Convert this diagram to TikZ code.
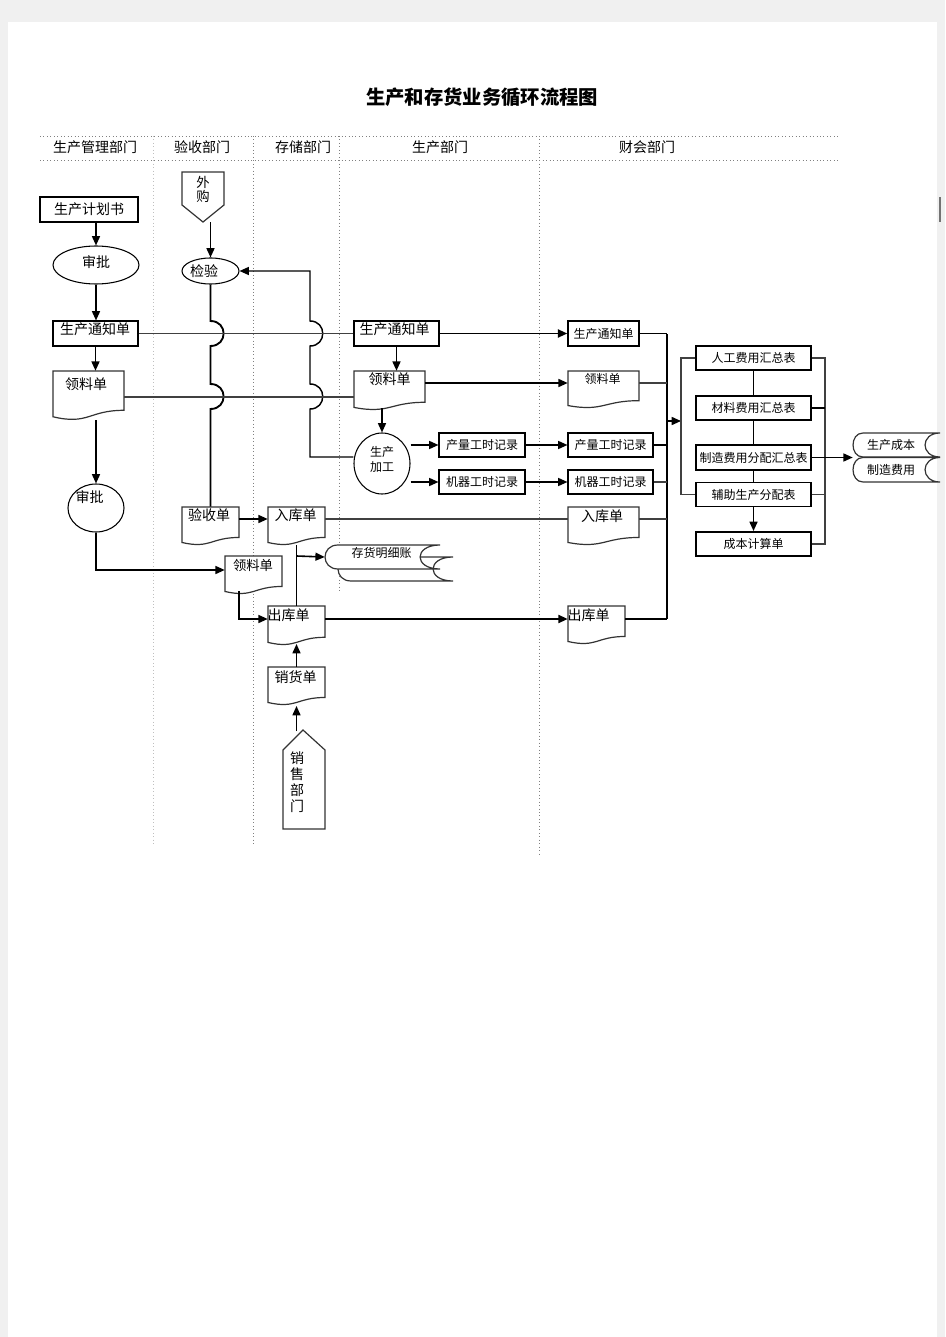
\documentclass[tikz,border=0pt]{standalone}
\usepackage{fontspec}
\setmainfont{Noto Sans CJK SC}
\usetikzlibrary{arrows.meta,shapes.geometric,calc}
\newcommand\myfs[1]{\fontsize{#1}{#1}\selectfont}
% document shape: name, x0, ytop, x1, H
\newcommand\docsh[5]{%
  \pgfmathsetmacro\dxm{(#2+#4)/2}%
  \pgfmathsetmacro\dyr{#3+0.802*#5}%
  \pgfmathsetmacro\dyl{#3+0.934*#5}%
  \pgfmathsetmacro\dyc{#3+1.107*#5}%
  \draw[docline] (#2,#3) -- (#4,#3) -- (#4,\dyr) .. controls (\dxm,\dyr) and (\dxm,\dyc) .. (#2,\dyl) -- cycle;
  \node[inner sep=0pt, bx={#4-#2}{#5}] (#1) at (\dxm,#3+#5/2) {};
}
% stored data shape: x0, ytop, x1, ybottom, left radius, right depth
\newcommand\storedsh[6]{%
  \draw[docline] (#1+#5,#2) -- (#3,#2) .. controls (#3-1.33*#6,#2) and (#3-1.33*#6,#4) .. (#3,#4) -- (#1+#5,#4) .. controls (#1-0.33*#5,#4) and (#1-0.33*#5,#2) .. (#1+#5,#2) -- cycle;
}
\begin{document}
\begin{tikzpicture}[x=0.75pt,y=-0.75pt,
  bx/.style 2 args={minimum width=(#1)*0.75pt, minimum height=(#2)*0.75pt},
  box/.style={draw, line width=0.8pt, inner sep=0pt, fill=white, font=\myfs{9}},
  thk/.style={line width=1.5pt},
  docline/.style={draw=black!80, line width=0.9pt, fill=white},
  ln/.style={line width=0.8pt, draw=black!75},
  lnb/.style={line width=1.4pt},
  arr/.style={-{Triangle[length=7pt,width=6pt]}, line width=1.2pt},
  txt/.style={inner sep=0pt, font=\myfs{10.5}},
  stxt/.style={inner sep=0pt, font=\myfs{9}},
  hdr/.style={draw=black!50, line width=0.6pt, dotted},
]
\useasboundingbox (0,0) rectangle (945,1337);
\fill[black!6] (0,0) rectangle (945,1337);
\fill[white] (8,22) rectangle (937,1337);
\fill[black!55] (939,197) rectangle (941,222);

% title
\node[inner sep=0pt, font=\myfs{14.5}\bfseries] (title) at (482,97) {生产和存货业务循环流程图};

% swimlane header
\draw[hdr] (40,136) -- (838,136);
\draw[hdr] (40,160) -- (838,160);
\draw[hdr, draw=black!25] (153,136) -- (153,845);
\draw[hdr] (253,136) -- (253,845);
\draw[hdr] (339,136) -- (339,593);
\draw[hdr] (539,136) -- (539,855);
\node[txt] (h1) at (95,147) {生产管理部门};
\node[txt] (h2) at (202,147) {验收部门};
\node[txt] (h3) at (303,147) {存储部门};
\node[txt] (h4) at (440,147) {生产部门};
\node[txt] (h5) at (647,147) {财会部门};

% ---------- production management ----------
\node[box, bx={98}{25}, font=\myfs{10.5}] (plan) at (89,209.5) {生产计划书};
\node[box, ellipse, bx={86}{38}] (appr1) at (96,265) {};
\node[txt] (appr1-t) at (96,262) {审批};
\node[box, bx={85}{25}] (noticeL) at (95.5,333.5) {};
\node[txt] (noticeL-t) at (95,329) {生产通知单};
\docsh{pickL}{53}{371}{124}{49}
\node[txt] (pickL-t) at (86,384) {领料单};
\node[box, ellipse, bx={56}{48}] (appr2) at (96,508) {};
\node[txt] (appr2-t) at (89.5,497) {审批};

% ---------- receiving ----------
\node[inner sep=0pt, bx={42}{50}] (buy) at (203,197) {};
\draw[docline] (182,172) -- (224,172) -- (224,205) -- (203,222) -- (182,205) -- cycle;
\node[inner sep=0pt, font=\fontsize{10}{10.5}\selectfont, align=center] (buy-t) at (203,189) {外\\购};
\node[box, ellipse, bx={57}{26}] (check) at (210.5,271) {};
\node[txt] (check-t) at (204,271) {检验};
\docsh{recv}{182}{507}{239}{38}
\node[txt] (recv-t) at (209,515) {验收单};

% ---------- storage ----------
\docsh{inS}{268}{507}{325}{38}
\node[txt] (inS-t) at (295.5,515) {入库单};
\storedsh{338}{557}{453}{581}{13}{20}
\storedsh{325}{545}{440}{569}{13}{20}
\node[inner sep=0pt, bx={115}{24}] (stock) at (382.5,557) {};
\node[stxt] (stock-t) at (381.5,553) {存货明细账};
\docsh{pickM}{225}{556}{282}{38}
\node[txt, font=\myfs{10}] (pickM-t) at (253,565) {领料单};
\docsh{outS}{268}{606}{325}{39}
\node[txt] (outS-t) at (288.5,615) {出库单};
\docsh{salesd}{268}{667}{325}{38}
\node[txt] (salesd-t) at (295.5,677) {销货单};
\node[inner sep=0pt, bx={42}{99}] (salesdep) at (304,779.5) {};
\draw[docline] (283,750) -- (303,730) -- (325,750) -- (325,829) -- (283,829) -- cycle;
\node[inner sep=0pt, font=\fontsize{10.5}{12}\selectfont, align=center] (salesdep-t) at (297,782) {销\\售\\部\\门};

% ---------- production ----------
\node[box, thk, bx={85}{25}] (noticeP) at (396.5,333.5) {};
\node[txt] (noticeP-t) at (394.5,329) {生产通知单};
\docsh{pickP}{354}{371}{425}{39}
\node[txt] (pickP-t) at (389.5,379) {领料单};
\node[box, ellipse, bx={56}{61}] (proc) at (382,463.5) {};
\node[inner sep=0pt, font=\fontsize{9}{11.25}\selectfont, align=center] (proc-t) at (382,459.5) {生产\\加工};
\node[box, bx={86}{24}] (prodRec) at (482,445) {产量工时记录};
\node[box, bx={86}{24}] (machRec) at (482,482) {机器工时记录};

% ---------- finance ----------
\node[box, line width=1.1pt, bx={71}{25}] (noticeF) at (603.5,333.5) {生产通知单};
\docsh{pickF}{568}{371}{639}{37}
\node[stxt] (pickF-t) at (602.5,379) {领料单};
\node[box, bx={85}{24}] (prodF) at (610.5,445) {产量工时记录};
\node[box, bx={85}{24}] (machF) at (610.5,482) {机器工时记录};
\docsh{inF}{568}{507}{639}{38}
\node[txt] (inF-t) at (602,516) {入库单};
\docsh{outF}{568}{606}{625}{38}
\node[txt] (outF-t) at (588.5,615) {出库单};

\node[box, bx={115}{24}] (labor) at (753.5,358) {人工费用汇总表};
\node[box, bx={115}{24}] (mat) at (753.5,408) {材料费用汇总表};
\node[box, thk, bx={115}{25}] (mfg) at (753.5,457.5) {制造费用分配汇总表};
\node[box, bx={115}{24}] (aux) at (753.5,494.5) {辅助生产分配表};
\node[box, thk, bx={115}{24}] (cost) at (753.5,544) {成本计算单};

\storedsh{853}{433}{940}{457}{10}{15}
\storedsh{853}{457.5}{940}{482}{10}{15}
\node[inner sep=0pt, bx={87}{49}] (pcost) at (896.5,457.5) {};
\node[stxt] (pcost-t1) at (891,445) {生产成本};
\node[stxt] (pcost-t2) at (891,470) {制造费用};

% ---------- connectors ----------
\draw[arr] (appr1.north |- plan.south) -- (appr1.north);
\draw[arr] (appr1.south) -- (appr1.south |- noticeL.north);
\draw[arr] (noticeL.south) -- (noticeL.south |- pickL.north);
\draw[arr] (appr2.north |- pickL.south) -- (appr2.north);
\draw[arr] (appr2.south) |- (pickM.west |- 0,570);

\draw[arr] (check.north |- buy.south) -- (check.north);
\draw[lnb] (check.south) -- (210.5,321) .. controls (228,321) and (228,346) .. (210.5,346)
  -- (210.5,384) .. controls (228,384) and (228,409) .. (210.5,409) -- (recv.north);
\draw[arr, line width=1.1pt] (proc.west |- 0,457) -- (310,457) -- (310,409)
  .. controls (327,409) and (327,384) .. (310,384) -- (310,346)
  .. controls (327,346) and (327,321) .. (310,321) -- (310,271) -- (check.east);

\draw[arr] (recv.east |- 0,519) -- (inS.west |- 0,519);
\draw[ln] (inS.east |- 0,519) -- (inF.west |- 0,519);
\draw[lnb] (inS.south) -- (outS.north);
\draw[arr] (inS.south |- 0,556) -- (stock.west);
\draw[arr] (239,591) |- (outS.west |- 0,619);
\draw[arr, line width=1.4pt] (outS.east |- 0,619) -- (outF.west |- 0,619);
\draw[arr] (salesd.north) -- (296.5,644);
\draw[arr] (296.5,731) -- (296.5,706);

\draw[ln] (noticeL.east) -- (noticeP.west);
\draw[arr, line width=1.4pt] (noticeP.east) -- (noticeF.west);
\draw[arr] (noticeP.south) -- (noticeP.south |- pickP.north);
\draw[ln] (pickL.east |- 0,397) -- (pickP.west |- 0,397);
\draw[arr] (pickP.east |- 0,383) -- (pickF.west |- 0,383);
\draw[arr] (proc.north |- 0,408) -- (proc.north);
\draw[arr] (proc.east |- prodRec.west) -- (prodRec.west);
\draw[arr] (proc.east |- machRec.west) -- (machRec.west);
\draw[arr] (prodRec.east) -- (prodF.west);
\draw[arr] (machRec.east) -- (machF.west);

% collector
\coordinate (colT) at (667,334);
\coordinate (colB) at (667,619);
\draw[lnb] (colT) -- (colB);
\draw[line width=1pt] (noticeF.east) -- (noticeF.east -| colT);
\draw[ln] (pickF.east |- 0,383) -- (colT |- 0,383);
\draw[lnb] (prodF.east) -- (prodF.east -| colT);
\draw[ln] (machF.east) -- (machF.east -| colT);
\draw[ln] (inF.east |- 0,519) -- (colT |- 0,519);
\draw[line width=1pt] (outF.east |- 0,619) -- (colB);
\draw[arr] (colT |- 0,421) -- (681,421);

% summary brackets
\draw[ln] (labor.west) -- (681,358) -- (681,494.5) -- (aux.west);
\draw[lnb] (labor.south) -- (mat.north);
\draw[lnb] (mat.south) -- (mfg.north);
\draw[lnb] (mfg.south) -- (aux.north);
\draw[arr] (aux.south) -- (cost.north);
\draw[ln] (labor.east) -- (825,358) -- (825,544) -- (cost.east);
\draw[lnb] (mat.east) -- (825,408);
\draw[ln] (aux.east) -- (825,494.5);
\draw[arr] (mfg.east) -- (pcost.west);
\end{tikzpicture}
\end{document}
